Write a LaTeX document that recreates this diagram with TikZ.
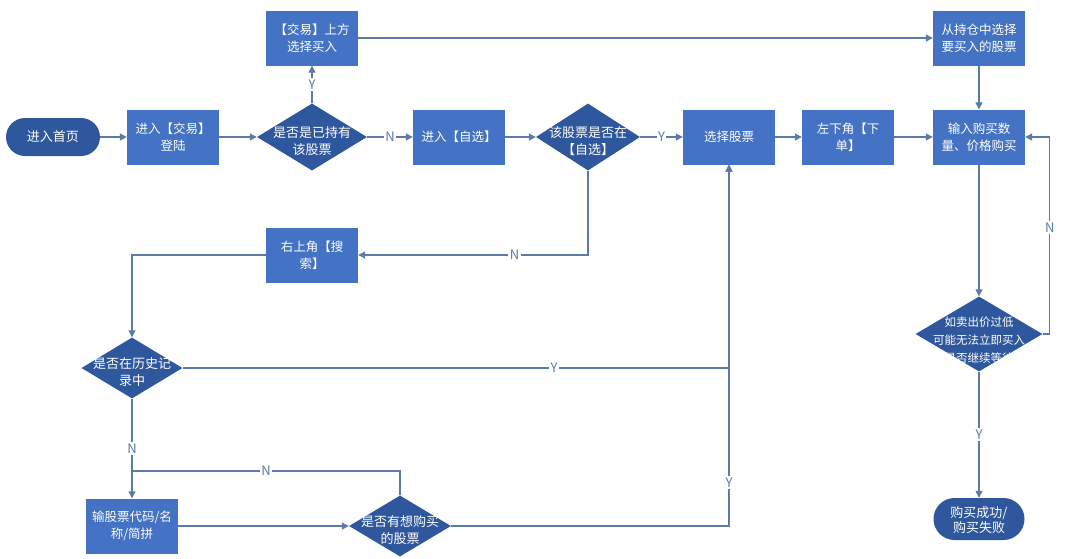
\documentclass[tikz,border=0pt]{standalone}
\usepackage{fontspec}
\newfontfamily\cjk{Noto Sans CJK SC}
\usepackage{tikz}
\usetikzlibrary{shapes.geometric, arrows.meta}
\tikzset{>={Triangle[length=7pt, width=7pt]}}
\definecolor{boxblue}{RGB}{68, 114, 196}
\definecolor{darkblue}{RGB}{47, 87, 158}
\definecolor{lineblue}{RGB}{92, 122, 168}

\begin{document}
\begin{tikzpicture}[
    x = 1pt, y = -1pt,
    b0/.style = {rectangle, fill = boxblue, text = white, minimum width = 92pt, minimum height = 55pt, inner sep = 0pt, align = center, font = \cjk\fontsize{12.5}{17}\selectfont},
    d0/.style = {diamond, fill = darkblue, text = white, aspect = 1.65, inner sep = -12pt, align = center, text height = 37pt, font = \cjk\fontsize{13}{17}\selectfont},
    p0/.style = {rectangle, rounded corners = 19pt, fill = darkblue, text = white, minimum width = 94pt, minimum height = 38pt, inner sep = 0pt, align = center, font = \cjk\fontsize{13}{15.5}\selectfont},
    l0/.style = {line width = 1.2pt, draw = lineblue},
    yn/.style = {fill = white, text = lineblue, inner sep = 1.5pt, font = \cjk\fontsize{13}{13}\selectfont}
]

\useasboundingbox (0, 0) rectangle (1080, 558);

% top row
\node[p0] (start) at (53, 137) {进入首页};
\node[b0] (login) at (173, 137) {进入【交易】\\登陆};
\node[d0, minimum width = 110pt, minimum height = 67pt] (held) at (312, 137) {是否是已持有\\该股票};
\node[b0] (trade) at (312, 38) {【交易】上方\\选择买入};
\node[b0] (watch) at (459, 137) {进入【自选】};
\node[d0, minimum width = 104pt, minimum height = 67pt] (inwatch) at (588, 137) {该股票是否在\\【自选】};
\node[b0] (pick) at (729, 137) {选择股票};
\node[b0] (order) at (848, 137) {左下角【下\\单】};
\node[b0] (hold) at (979, 38) {从持仓中选择\\要买入的股票};
\node[b0] (qty) at (979, 137) {输入购买数\\量、价格购买};

% right column
\node[d0, minimum width = 127pt, minimum height = 75pt, inner sep = -20pt, text height = 57pt, font = \cjk\fontsize{11.5}{18}\selectfont] (wait) at (979, 334) {如卖出价过低\\可能无法立即买入\\是否继续等待};
\node[p0, minimum width = 91pt, minimum height = 42pt, rounded corners = 21pt, text height = 29pt] (done) at (979, 519) {购买成功/\\购买失败};

% search branch
\node[b0] (search) at (312, 255) {右上角【搜\\索】};
\node[d0, minimum width = 101pt, minimum height = 61pt] (hist) at (132, 368) {是否在历史记\\录中};
\node[b0] (input) at (132, 526) {输股票代码/名\\称/简拼};
\node[d0, minimum width = 102pt, minimum height = 61pt] (want) at (400, 526) {是否有想购买\\的股票};
\coordinate (join) at (132, 471);

\draw[l0, ->] (start) -- (login);
\draw[l0, ->] (login) -- (held);
\draw[l0, ->] (held) -- node[yn] {N} (watch);
\draw[l0, ->] (held) -- node[yn] {Y} (trade);
\draw[l0, ->] (watch) -- (inwatch);
\draw[l0, ->] (inwatch) -- node[yn] {Y} (pick);
\draw[l0, ->] (pick) -- (order);
\draw[l0, ->] (order) -- (qty);
\draw[l0, ->] (trade) -- (hold);
\draw[l0, ->] (hold) -- (qty);
\draw[l0, ->] (qty) -- (wait);
\draw[l0, ->] (wait) -- node[yn] {Y} (done);
\draw[l0, ->] (wait.east) -- ++(7, 0) |- node[yn, pos = 0.27] {N} (qty.east);

\draw[l0, ->] (inwatch.south) |- node[yn, pos = 0.66] {N} (search.east);
\draw[l0, ->] (search.west) -| (hist.north);
\draw[l0, ->] (hist.east) -| node[yn, pos = 0.34] {Y} (pick.south);
\draw[l0, ->] (hist) -- node[yn] {N} (input);
\draw[l0, ->] (input) -- (want);
\draw[l0] (want.north) |- node[yn, pos = 0.75] {N} (join);
\draw[l0, ->] (want.east) -| node[yn, pos = 0.56] {Y} (pick.south);

\end{tikzpicture}
\end{document}
